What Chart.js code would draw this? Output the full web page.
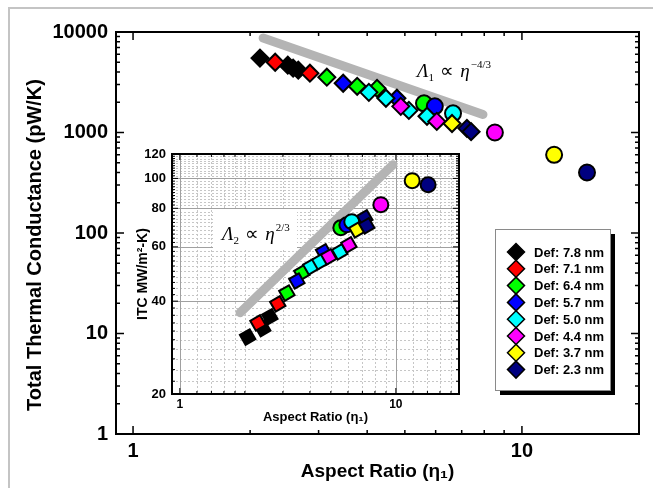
<!DOCTYPE html>
<html>
<head>
<meta charset="utf-8">
<script src="https://cdn.jsdelivr.net/npm/chart.js@4.4.1/dist/chart.umd.min.js"></script>
<style>
  body { margin: 0; background: #fff; }
  #wrap { position: relative; width: 653px; height: 488px; overflow: hidden; }
  #edge { position: absolute; left: 8px; top: 7px; width: 700px; height: 540px; border-left: 2px solid #c4c4c4; border-top: 2px solid #c4c4c4; }
  #main { position: absolute; left: 0; top: 0; }
  #inset { position: absolute; left: 125px; top: 140px; }
</style>
</head>
<body>
<div id="wrap">
  <div id="edge"></div>
  <canvas id="main" width="653" height="488"></canvas>
  <canvas id="inset" width="345" height="290"></canvas>
</div>
<script>
const defLabels = ['Def: 7.8 nm', 'Def: 7.1 nm', 'Def: 6.4 nm', 'Def: 5.7 nm', 'Def: 5.0 nm', 'Def: 4.4 nm', 'Def: 3.7 nm', 'Def: 2.3 nm'];
const defColors = ['#000000', '#ff0000', '#00ff00', '#0000ff', '#00ffff', '#ff00ff', '#ffff00', '#000080'];

// main plot: [aspect ratio, total thermal conductance pW/K]
const main78 = [[2.12, 5500], [2.50, 4680], [2.58, 4370], [2.66, 4170]];
const main71 = [[2.32, 5000], [2.85, 3890]];
const main64 = [[3.15, 3550], [3.77, 2880], [4.24, 2750]];
const main57 = [[3.47, 3090], [4.77, 2190]];
const main50 = [[4.04, 2510], [4.47, 2190], [5.12, 1660], [5.70, 1450]];
const main44 = [[4.88, 1820], [6.04, 1290]];
const main37 = [[6.61, 1230]];
const main23 = [[7.22, 1100], [7.40, 1020]];
// round markers (one per defect size, series index in roundSeries)
const roundSeries = [2, 3, 4, 5, 6, 7];
const mainRoundEta = [5.60, 5.97, 6.65, 8.52, 12.1, 14.7];
const mainRoundG = [1950, 1820, 1550, 1000, 600, 400];
const mainFit = [[2.16, 8700], [7.94, 1510]];

// inset: [aspect ratio, ITC MW/m2-K]
const inset78 = [[2.06, 30.6], [2.42, 32.6], [2.61, 35.6]];
const inset71 = [[2.30, 34.0], [2.84, 39.2]];
const inset64 = [[3.13, 42.5], [3.67, 49.4]];
const inset57 = [[3.48, 46.5], [4.63, 57.8]];
const inset50 = [[4.04, 51.7], [4.45, 53.7], [5.50, 57.8]];
const inset44 = [[4.89, 55.7], [6.06, 60.9]];
const inset37 = [[6.60, 68.1]];
const inset23 = [[7.18, 74.5], [7.33, 70.2]];
const insetRoundEta = [5.56, 5.93, 6.25, 8.52, 11.9, 14.1];
const insetRoundITC = [69.2, 70.7, 72.4, 82.2, 98.3, 95.4];
const insetFit = [[1.90, 36.7], [9.69, 110.8]];

// axes
const mainXRange = [0.904, 20];
const mainYRange = [1, 10000];
const mainXLabels = [1, 10];
const mainYLabels = [1, 10, 100, 1000, 10000];
const insetXRange = [0.92, 19.6];
const insetYRange = [20, 120];
const insetXLabels = [1, 10];
const insetYLabels = [20, 40, 60, 80, 100, 120];
const insetXMinor = [1.2, 1.4, 1.6, 1.8, 2, 3, 4, 5, 6, 7, 8, 9, 12, 14, 16, 18];
const insetYMinor = [22, 24, 26, 28, 30, 32, 34, 36, 38, 42, 44, 46, 48, 50, 52, 54, 56, 58,
  62, 64, 66, 68, 70, 72, 74, 76, 78, 82, 84, 86, 88, 90, 92, 94, 96, 98, 102, 104, 106, 108, 110, 112, 114, 116, 118];

Chart.defaults.font.family = '"Liberation Sans", Arial, sans-serif';
Chart.defaults.color = '#000';

function decadeMinors(range) {
  let out = [];
  for (let d = 0.1; d <= range[1]; d *= 10) {
    for (let k = 2; k <= 9; k++) out.push(+(k * d).toPrecision(3));
  }
  return out;
}

function logAxis(pos, range, majors, minors, size, pad, fit, title) {
  return {
    type: 'logarithmic', position: pos, min: range[0], max: range[1], bounds: 'data',
    grid: { display: false, drawTicks: false }, border: { display: false },
    afterBuildTicks: s => {
      s.ticks = majors.concat(minors)
        .filter(v => v >= range[0] * 0.999 && v <= range[1] * 1.001)
        .sort((a, b) => a - b)
        .map(v => ({ value: v, major: majors.includes(v) }));
    },
    afterFit: s => { if (pos === 'left') s.width = fit; else s.height = fit; },
    ticks: { autoSkip: false, maxRotation: 0, padding: pad, font: { size: size, weight: 'bold' },
      callback: v => majors.includes(v) ? String(v) : '' },
    title: title
  };
}

function pts(pairs) { return pairs.map(p => ({ x: p[0], y: p[1] })); }

function makeSets(sets, roundEta, roundVal, fit, look) {
  const ds = [{
    label: 'fit', data: pts(fit), showLine: true, borderColor: '#b4b4b4', borderWidth: look.fitWidth,
    borderCapStyle: 'round', pointRadius: 0, order: 100
  }, {
    label: 'round', data: roundEta.map((v, i) => ({ x: v, y: roundVal[i] })), pointStyle: 'circle',
    pointRadius: look.circle, pointBackgroundColor: roundSeries.map(i => defColors[i]),
    pointBorderColor: '#000', pointBorderWidth: 2, order: 50
  }];
  sets.forEach((s, i) => ds.push({
    label: defLabels[i], data: pts(s), pointStyle: 'rectRot', pointRadius: look.diamond,
    pointRotation: look.rot, pointBackgroundColor: defColors[i], pointBorderColor: '#000',
    pointBorderWidth: 2, order: 10 - i
  }));
  return ds;
}

// grid, frame, inward ticks, notes
const framePlugin = {
  id: 'frame',
  beforeDatasetsDraw(chart, args, o) {
    const { ctx, chartArea: a, scales: { x, y } } = chart;
    ctx.save();
    if (o.grid) {
      ctx.lineWidth = 1;
      [false, true].forEach(major => {
        ctx.strokeStyle = major ? '#a0a0a0' : '#c6c6c6';
        ctx.setLineDash(major ? [] : [2, 2]);
        x.ticks.filter(t => t.major === major).forEach(t => {
          const p = Math.round(x.getPixelForValue(t.value)) + 0.5;
          ctx.beginPath(); ctx.moveTo(p, a.top); ctx.lineTo(p, a.bottom); ctx.stroke();
        });
        y.ticks.filter(t => t.major === major).forEach(t => {
          const p = Math.round(y.getPixelForValue(t.value)) + 0.5;
          ctx.beginPath(); ctx.moveTo(a.left, p); ctx.lineTo(a.right, p); ctx.stroke();
        });
      });
      ctx.setLineDash([]);
    }
    if (o.note) {
      const n = o.note;
      if (n.box) { ctx.fillStyle = '#fff'; ctx.fillRect(n.box[0], n.box[1], n.box[2], n.box[3]); }
      drawLaw(ctx, n.x, n.y, n.sub, n.sup, n.size);
    }
    if (o.yTitle) {
      const t = o.yTitle;
      ctx.translate(t.x, t.y);
      ctx.rotate(-Math.PI / 2);
      ctx.font = 'bold ' + t.size + 'px "Liberation Sans", Arial, sans-serif';
      ctx.fillStyle = '#000';
      ctx.textAlign = 'center';
      ctx.textBaseline = 'middle';
      ctx.fillText(t.text, 0, 0);
    }
    ctx.restore();
  },
  afterDatasetsDraw(chart, args, o) {
    const { ctx, chartArea: a, scales: { x, y } } = chart;
    ctx.save();
    ctx.strokeStyle = '#000';
    ctx.lineWidth = o.tickWidth;
    x.ticks.forEach(t => {
      const p = x.getPixelForValue(t.value), len = t.major ? o.major : o.minor;
      ctx.beginPath();
      ctx.moveTo(p, a.bottom); ctx.lineTo(p, a.bottom - len);
      ctx.moveTo(p, a.top); ctx.lineTo(p, a.top + len);
      ctx.stroke();
    });
    y.ticks.forEach(t => {
      const p = y.getPixelForValue(t.value), len = t.major ? o.major : o.minor;
      ctx.beginPath();
      ctx.moveTo(a.left, p); ctx.lineTo(a.left + len, p);
      ctx.moveTo(a.right, p); ctx.lineTo(a.right - len, p);
      ctx.stroke();
    });
    ctx.lineWidth = o.frameWidth;
    ctx.strokeRect(a.left, a.top, a.right - a.left, a.bottom - a.top);
    ctx.restore();
  }
};

function drawLaw(ctx, x, y, sub, sup, size) {
  const serif = '"Liberation Serif", "Times New Roman", serif';
  const small = Math.round(size * 0.6) + 'px ' + serif;
  ctx.fillStyle = '#000';
  ctx.textAlign = 'left';
  ctx.textBaseline = 'alphabetic';
  ctx.font = 'italic ' + size + 'px ' + serif;
  ctx.fillText('Λ', x, y); x += ctx.measureText('Λ').width;
  ctx.font = small;
  ctx.fillText(sub, x, y + size * 0.2); x += ctx.measureText(sub).width + size * 0.3;
  ctx.font = size + 'px ' + serif;
  ctx.fillText('∝', x, y); x += ctx.measureText('∝').width + size * 0.35;
  ctx.font = 'italic ' + size + 'px ' + serif;
  ctx.fillText('η', x, y); x += ctx.measureText('η').width + 1;
  ctx.font = small;
  ctx.fillText(sup, x, y - size * 0.5);
}

const legendPlugin = {
  id: 'defLegend',
  afterDraw(chart, args, o) {
    const ctx = chart.ctx;
    ctx.save();
    ctx.fillStyle = '#000';
    ctx.fillRect(o.left + 5, o.top + 5, o.width, o.height);
    ctx.fillStyle = '#fff';
    ctx.fillRect(o.left, o.top, o.width, o.height);
    ctx.strokeStyle = '#8a8a8a'; ctx.lineWidth = 1;
    ctx.strokeRect(o.left + 0.5, o.top + 0.5, o.width, o.height);
    ctx.font = 'bold 13px "Liberation Sans", Arial, sans-serif';
    ctx.textBaseline = 'middle';
    ctx.textAlign = 'left';
    chart.data.datasets.filter(d => defLabels.includes(d.label)).forEach((d, i) => {
      const cx = o.left + 21, cy = o.top + o.first + i * o.row, r = 8.5;
      ctx.beginPath();
      ctx.moveTo(cx, cy - r); ctx.lineTo(cx + r, cy); ctx.lineTo(cx, cy + r); ctx.lineTo(cx - r, cy);
      ctx.closePath();
      ctx.fillStyle = d.pointBackgroundColor; ctx.fill();
      ctx.lineWidth = 1.5; ctx.strokeStyle = '#000'; ctx.stroke();
      ctx.fillStyle = '#000';
      ctx.fillText(d.label, o.left + 39, cy + 1);
    });
    ctx.restore();
  }
};

const mainChart = new Chart(document.getElementById('main'), {
  type: 'scatter',
  data: { datasets: makeSets([main78, main71, main64, main57, main50, main44, main37, main23],
    mainRoundEta, mainRoundG, mainFit, { diamond: 8.5, circle: 8, rot: 0, fitWidth: 9 }) },
  options: {
    responsive: false, animation: false, events: [],
    layout: { padding: { top: 32, right: 14, left: 0, bottom: 0 } },
    scales: {
      x: logAxis('bottom', mainXRange, mainXLabels, decadeMinors(mainXRange), 20, 5, 54,
        { display: true, text: 'Aspect Ratio (η\u2081)', font: { size: 19, weight: 'bold' }, padding: { top: 0, bottom: 5 } }),
      y: logAxis('left', mainYRange, mainYLabels, decadeMinors(mainYRange), 20, 8, 116, { display: false })
    },
    plugins: {
      legend: { display: false }, tooltip: { enabled: false },
      frame: { major: 8, minor: 4, tickWidth: 1.5, frameWidth: 2,
        note: { x: 417, y: 77, sub: '1', sup: '\u22124/3', size: 19 },
        yTitle: { text: 'Total Thermal Conductance (pW/K)', x: 35, y: 245, size: 20 } },
      defLegend: { left: 495, top: 229, width: 115, height: 161, first: 23, row: 16.8 }
    }
  },
  plugins: [framePlugin, legendPlugin]
});

const insetChart = new Chart(document.getElementById('inset'), {
  type: 'scatter',
  data: { datasets: makeSets([inset78, inset71, inset64, inset57, inset50, inset44, inset37, inset23],
    insetRoundEta, insetRoundITC, insetFit, { diamond: 8, circle: 7.5, rot: 15, fitWidth: 9 }) },
  options: {
    responsive: false, animation: false, events: [],
    layout: { padding: { top: 14, right: 11, left: 0, bottom: 0 } },
    scales: {
      x: logAxis('bottom', insetXRange, insetXLabels, insetXMinor, 12, 3, 36,
        { display: true, text: 'Aspect Ratio (η\u2081)', font: { size: 13, weight: 'bold' }, padding: { top: 0, bottom: 5 } }),
      y: logAxis('left', insetYRange, insetYLabels, insetYMinor, 13, 6, 47,
        { display: true, text: 'ITC MW/m\u00b2-K)', font: { size: 14, weight: 'bold' }, padding: { top: 10, bottom: 0 } })
    },
    plugins: {
      legend: { display: false }, tooltip: { enabled: false },
      frame: { major: 6, minor: 3, tickWidth: 1, frameWidth: 2, grid: true,
        note: { x: 97, y: 100, sub: '2', sup: '2/3', size: 19, box: [88, 70, 84, 38] } }
    }
  },
  plugins: [framePlugin]
});
</script>
</body>
</html>
